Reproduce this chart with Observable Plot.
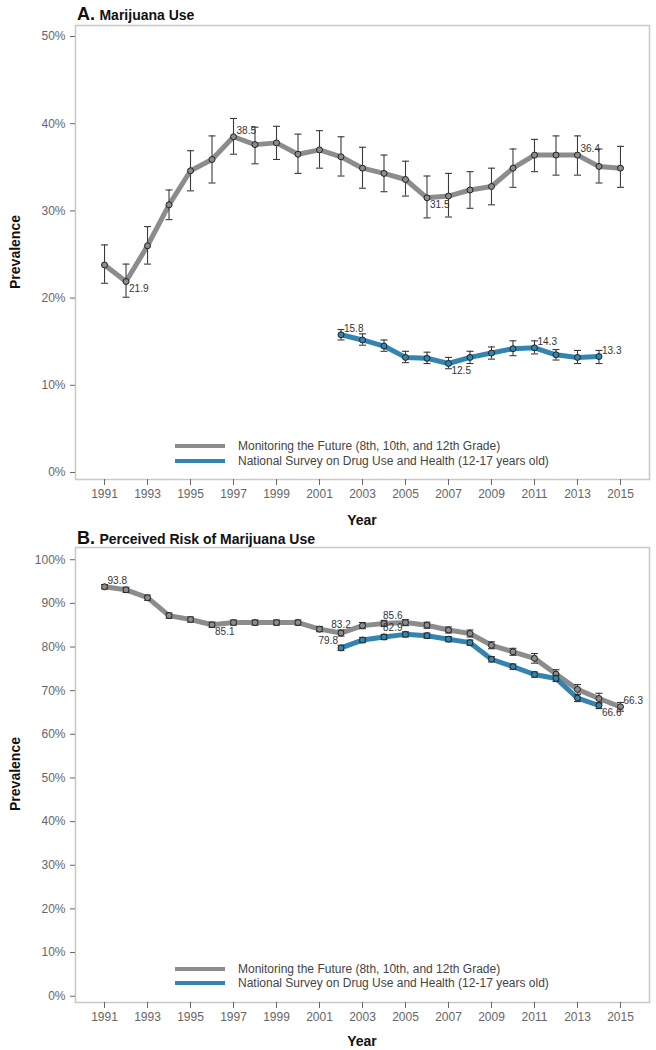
<!DOCTYPE html>
<html>
<head>
<meta charset="utf-8">
<script src="https://cdn.jsdelivr.net/npm/d3@7"></script>
<script src="https://cdn.jsdelivr.net/npm/@observablehq/plot@0.6"></script>
<style>
  body { margin: 0; background: #fff; font-family: "Liberation Sans", Arial, sans-serif; }
  #wrap { position: relative; width: 656px; height: 1050px; overflow: hidden; }
  .abs { position: absolute; }
  .title { left: 77px; font-weight: bold; color: #111; line-height: 20px; white-space: nowrap; }
  .title .big { font-size: 18px; }
  .title .small { font-size: 14px; }
  .xlab { left: 75px; width: 574px; text-align: center; font-weight: bold; font-size: 14px; color: #111; line-height: 18px; }
  .ylab { left: 15px; font-weight: bold; font-size: 14px; color: #111; white-space: nowrap; transform: translate(-50%, -50%) rotate(-90deg); }
  .legline { left: 175px; width: 50px; height: 4px; }
  .legtext { left: 238px; font-size: 12px; color: #444; line-height: 14px; white-space: nowrap; }
</style>
</head>
<body>
<div id="wrap"></div>
<script>
// ---------- DATA ----------
const xTicks = [1991, 1993, 1995, 1997, 1999, 2001, 2003, 2005, 2007, 2009, 2011, 2013, 2015];
const yTicksA = [0, 10, 20, 30, 40, 50];
const yTicksB = [0, 10, 20, 30, 40, 50, 60, 70, 80, 90, 100];

const seriesNames = ["Monitoring the Future (8th, 10th, and 12th Grade)", "National Survey on Drug Use and Health (12-17 years old)"];

const mtfYears = [1991, 1992, 1993, 1994, 1995, 1996, 1997, 1998, 1999, 2000, 2001, 2002, 2003, 2004, 2005, 2006, 2007, 2008, 2009, 2010, 2011, 2012, 2013, 2014, 2015];
const nsduhYears = [2002, 2003, 2004, 2005, 2006, 2007, 2008, 2009, 2010, 2011, 2012, 2013, 2014];

// Panel A: marijuana use prevalence (%)
const mtfUse   = [23.8, 21.9, 26.0, 30.7, 34.6, 35.9, 38.5, 37.6, 37.8, 36.5, 37.0, 36.2, 34.9, 34.3, 33.6, 31.5, 31.7, 32.4, 32.8, 34.9, 36.4, 36.4, 36.4, 35.1, 34.9];
const mtfUseLo = [21.7, 20.1, 23.9, 29.0, 32.3, 33.2, 36.5, 35.4, 35.9, 34.3, 34.9, 34.0, 32.6, 32.2, 31.7, 29.2, 29.3, 30.3, 30.7, 32.7, 34.5, 34.1, 34.1, 33.2, 32.7];
const mtfUseHi = [26.1, 23.9, 28.2, 32.4, 36.9, 38.6, 40.6, 39.6, 39.7, 38.8, 39.2, 38.5, 37.3, 36.4, 35.7, 34.0, 34.3, 34.5, 34.9, 37.1, 38.2, 38.6, 38.6, 37.1, 37.4];
const nsduhUse   = [15.8, 15.2, 14.5, 13.2, 13.1, 12.5, 13.2, 13.7, 14.2, 14.3, 13.5, 13.2, 13.3];
const nsduhUseLo = [15.2, 14.6, 13.9, 12.6, 12.5, 11.9, 12.5, 13.0, 13.4, 13.6, 12.9, 12.5, 12.5];
const nsduhUseHi = [16.4, 15.9, 15.2, 13.9, 13.8, 13.2, 13.9, 14.4, 15.1, 15.1, 14.1, 14.0, 14.0];

// Panel B: perceived risk (%)
const mtfRisk   = [93.8, 93.1, 91.3, 87.2, 86.3, 85.1, 85.6, 85.6, 85.6, 85.6, 84.1, 83.2, 84.9, 85.4, 85.6, 85.0, 83.9, 83.1, 80.4, 78.9, 77.4, 73.8, 70.3, 68.2, 66.3];
const mtfRiskLo = [93.3, 92.5, 90.7, 86.6, 85.7, 84.5, 85.0, 85.0, 85.0, 85.0, 83.5, 82.5, 84.2, 84.7, 84.9, 84.3, 83.2, 82.3, 79.6, 78.1, 76.3, 72.8, 69.2, 67.0, 65.3];
const mtfRiskHi = [94.3, 93.7, 91.9, 87.8, 86.9, 85.7, 86.2, 86.2, 86.2, 86.2, 84.7, 83.9, 85.6, 86.1, 86.3, 85.7, 84.6, 83.9, 81.2, 79.7, 78.5, 74.8, 71.4, 69.4, 67.3];
const nsduhRisk   = [79.8, 81.6, 82.3, 82.9, 82.6, 81.8, 81.0, 77.2, 75.5, 73.7, 72.8, 68.3, 66.6];
const nsduhRiskLo = [79.2, 81.0, 81.7, 82.3, 82.0, 81.2, 80.4, 76.6, 74.9, 73.1, 72.1, 67.5, 65.9];
const nsduhRiskHi = [80.4, 82.2, 82.9, 83.5, 83.2, 82.4, 81.6, 77.8, 76.1, 74.3, 73.5, 69.1, 67.3];

// labelled data points (years)
const labelsA = { mtf: [1992, 1997, 2006, 2013], nsduh: [2002, 2007, 2011, 2014] };
const labelsB = { mtf: [1991, 1996, 2002, 2005, 2015], nsduh: [2002, 2005, 2014] };

// ---------- STYLE ----------
const colors = { mtf: "#8c8c8c", nsduh: "#3484b0" };
// label placement: tr = top-right, br = bottom-right, tl = top-left, t = top
const placeA = { mtf: { 1992: "br", 1997: "tr", 2006: "br", 2013: "tr" }, nsduh: { 2002: "tr", 2007: "br", 2011: "tr", 2014: "tr" } };
const placeB = { mtf: { 1991: "tr", 1996: "br", 2002: "t", 2005: "tl", 2015: "tr" }, nsduh: { 2002: "tl", 2005: "tl", 2014: "br" } };
const placeStyle = {
  tr: { dx: 3, dy: -6, textAnchor: "start" },
  br: { dx: 3, dy: 7, textAnchor: "start" },
  tl: { dx: -3, dy: -7, textAnchor: "end" },
  t:  { dx: 0, dy: -8, textAnchor: "middle" }
};

const rows = (years, v, lo, hi) => years.map((year, i) => ({ year, value: v[i], lo: lo[i], hi: hi[i] }));
const cap = { draw(ctx) { ctx.moveTo(-3.5, 0); ctx.lineTo(3.5, 0); } };

function seriesMarks(data, color, labelYears, place) {
  const marks = [
    Plot.line(data, { x: "year", y: "value", stroke: color, strokeWidth: 5, strokeLinejoin: "round", strokeLinecap: "round" }),
    Plot.ruleX(data, { x: "year", y1: "lo", y2: "hi", stroke: "#3a3a3a", strokeWidth: 1.1 }),
    Plot.dot(data, { x: "year", y: "lo", symbol: cap, fill: "none", stroke: "#3a3a3a", strokeWidth: 1.1 }),
    Plot.dot(data, { x: "year", y: "hi", symbol: cap, fill: "none", stroke: "#3a3a3a", strokeWidth: 1.1 }),
    Plot.dot(data, { x: "year", y: "value", r: 3, fill: color, stroke: "#222", strokeWidth: 1 })
  ];
  for (const key of Object.keys(placeStyle)) {
    const subset = data.filter(d => labelYears.includes(d.year) && place[d.year] === key);
    if (subset.length) {
      marks.push(Plot.text(subset, {
        x: "year", y: "value", text: d => d.value.toFixed(1),
        fontSize: 10, fill: "#333", ...placeStyle[key]
      }));
    }
  }
  return marks;
}

function panel({ mtf, nsduh, labels, place, yDomain, yTicks, height, marginTop, marginBottom }) {
  return Plot.plot({
    width: 656, height,
    marginLeft: 75, marginRight: 7, marginTop, marginBottom,
    style: { fontFamily: "'Liberation Sans', Arial, sans-serif", fontSize: "12px", color: "#555", background: "transparent" },
    x: { domain: [1989.65, 2016.35] },
    y: { domain: yDomain },
    marks: [
      Plot.frame({ stroke: "#c8c8c8", strokeWidth: 1.5 }),
      Plot.axisY({ ticks: yTicks, tickFormat: d => d + "%", tickSize: 5, tickPadding: 5, label: null, fontSize: 12, color: "#666" }),
      Plot.axisX({ ticks: xTicks, tickFormat: d => String(d), tickSize: 6, tickPadding: 4, label: null, fontSize: 12, color: "#666" }),
      ...seriesMarks(mtf, colors.mtf, labels.mtf, place.mtf),
      ...seriesMarks(nsduh, colors.nsduh, labels.nsduh, place.nsduh)
    ]
  });
}

const wrap = document.getElementById("wrap");
function place(el, top) { el.style.position = "absolute"; el.style.left = "0px"; el.style.top = top + "px"; wrap.appendChild(el); }

const svgA = panel({
  mtf: rows(mtfYears, mtfUse, mtfUseLo, mtfUseHi),
  nsduh: rows(nsduhYears, nsduhUse, nsduhUseLo, nsduhUseHi),
  labels: labelsA, place: placeA,
  yDomain: [-0.8, 51.26], yTicks: yTicksA,
  height: 530, marginTop: 25, marginBottom: 51
});
place(svgA, 0);

const svgB = panel({
  mtf: rows(mtfYears, mtfRisk, mtfRiskLo, mtfRiskHi),
  nsduh: rows(nsduhYears, nsduhRisk, nsduhRiskLo, nsduhRiskHi),
  labels: labelsB, place: placeB,
  yDomain: [-1.44, 102.8], yTicks: yTicksB,
  height: 520, marginTop: 17, marginBottom: 48
});
place(svgB, 530);

function addHTML(cls, top, html, extra = {}) {
  const d = document.createElement("div");
  d.className = "abs " + cls;
  d.style.top = top + "px";
  Object.assign(d.style, extra);
  d.innerHTML = html;
  wrap.appendChild(d);
  return d;
}
addHTML("title", 4, '<span class="big">A.</span> <span class="small">Marijuana Use</span>');
addHTML("title", 528, '<span class="big">B.</span> <span class="small">Perceived Risk of Marijuana Use</span>');
addHTML("xlab", 511, "Year");
addHTML("xlab", 1032, "Year");
addHTML("ylab", 252, "Prevalence");
addHTML("ylab", 774, "Prevalence");

// legends
addHTML("legline", 444, "", { background: colors.mtf });
addHTML("legline", 459, "", { background: colors.nsduh });
addHTML("legtext", 439, seriesNames[0]);
addHTML("legtext", 454, seriesNames[1]);
addHTML("legline", 967, "", { background: colors.mtf });
addHTML("legline", 981, "", { background: colors.nsduh });
addHTML("legtext", 962, seriesNames[0]);
addHTML("legtext", 976, seriesNames[1]);
</script>
</body>
</html>
